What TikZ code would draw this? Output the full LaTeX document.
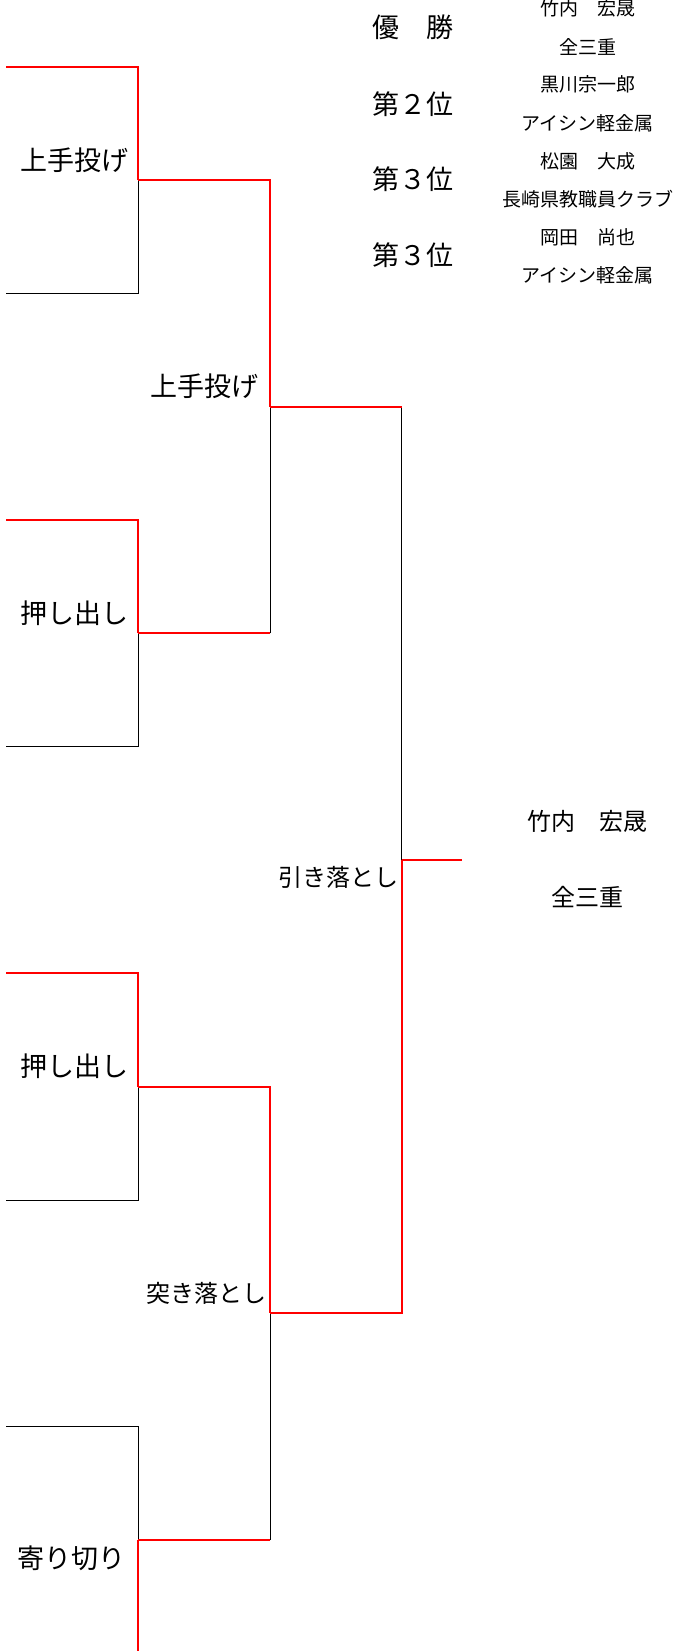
\documentclass[tikz,border=0pt]{standalone}
\usepackage{fontspec}
\newfontfamily\jpfont{Noto Sans CJK JP}
\tikzset{
  win/.style={red, line width=1.8pt},
  lose/.style={black, line width=1pt},
  kimarite/.style={font=\jpfont\fontsize{27}{27}\selectfont, anchor=east, inner sep=0pt},
  kimarite small/.style={kimarite, font=\jpfont\fontsize{24}{24}\selectfont},
  rank/.style={font=\jpfont\fontsize{27}{27}\selectfont, inner sep=0pt},
  entry/.style={font=\jpfont\fontsize{19}{19}\selectfont, inner sep=0pt},
  champ/.style={font=\jpfont\fontsize{24}{24}\selectfont, inner sep=0pt}
}
\begin{document}
\begin{tikzpicture}[x=1pt,y=-1pt]
\useasboundingbox (0,0) rectangle (691,1651);

% Define the leaf ends and the junctions
\coordinate (L1) at (6,66.7);
\coordinate (L2) at (6,293.3);
\coordinate (L3) at (6,520);
\coordinate (L4) at (6,746.7);
\coordinate (L5) at (6,973.3);
\coordinate (L6) at (6,1200);
\coordinate (L7) at (6,1426.7);
\coordinate (L8) at (138,1651);
\coordinate (J1) at (138,180);
\coordinate (J2) at (138,633.3);
\coordinate (J3) at (138,1086.7);
\coordinate (J4) at (138,1540);
\coordinate (K1) at (270,406.7);
\coordinate (K2) at (270,1313.3);
\coordinate (F) at (401.7,860);
\coordinate (W) at (461.7,860);

% Black lines for the losers
\draw[lose] (L2) -| (J1);
\draw[lose] (L4) -| (J2);
\draw[lose] (L6) -| (J3);
\draw[lose] (L7) -| (J4);
\draw[lose] (J2 -| K1) -- (K1);
\draw[lose] (J4 -| K2) -- (K2);
\draw[lose] (K1 -| F) -- (F);

% Red lines for the winners
\draw[win] (L1) -| (J1);
\draw[win] (L3) -| (J2);
\draw[win] (L5) -| (J3);
\draw[win] (L8) -- (J4);
\draw[win] (J1) -| (K1);
\draw[win] (J2) -- (J2 -| K1);
\draw[win] (J3) -| (K2);
\draw[win] (J4) -- (J4 -| K2);
\draw[win] (K1) -- (K1 -| F);
\draw[win] (K2) -| (F);
\draw[win] (F) -- (W);

% Winning techniques
\node[kimarite] (k1) at ([xshift=-9pt,yshift=20pt]J1) {上手投げ};
\node[kimarite] (k2) at ([xshift=-9pt,yshift=20pt]J2) {押し出し};
\node[kimarite] (k3) at ([xshift=-9pt,yshift=20pt]J3) {押し出し};
\node[kimarite] (k4) at ([xshift=-12pt,yshift=-18pt]J4) {寄り切り};
\node[kimarite] (k5) at ([xshift=-11pt,yshift=20pt]K1) {上手投げ};
\node[kimarite small] (k6) at ([xshift=-3pt,yshift=20pt]K2) {突き落とし};
\node[kimarite small] (k7) at ([xshift=-3pt,yshift=-17pt]F) {引き落とし};

% Champion
\node[champ] (champName) at (587.5,821.7) {竹内　宏晟};
\node[champ] (champTeam) at (587.5,897.5) {全三重};

% Final standings
\node[rank] (rank1) at (413,27.5) {優　勝};
\node[rank] (rank2) at (413,104) {第２位};
\node[rank] (rank3a) at (413,179) {第３位};
\node[rank] (rank3b) at (413,255) {第３位};
\node[entry] (name1) at (587.5,8.5) {竹内　宏晟};
\node[entry] (team1) at (587.5,46.6) {全三重};
\node[entry] (name2) at (587.5,84.7) {黒川宗一郎};
\node[entry] (team2) at (587.5,122.8) {アイシン軽金属};
\node[entry] (name3a) at (587.5,160.9) {松園　大成};
\node[entry] (team3a) at (587.5,199) {長崎県教職員クラブ};
\node[entry] (name3b) at (587.5,237.1) {岡田　尚也};
\node[entry] (team3b) at (587.5,275.2) {アイシン軽金属};
\end{tikzpicture}
\end{document}
